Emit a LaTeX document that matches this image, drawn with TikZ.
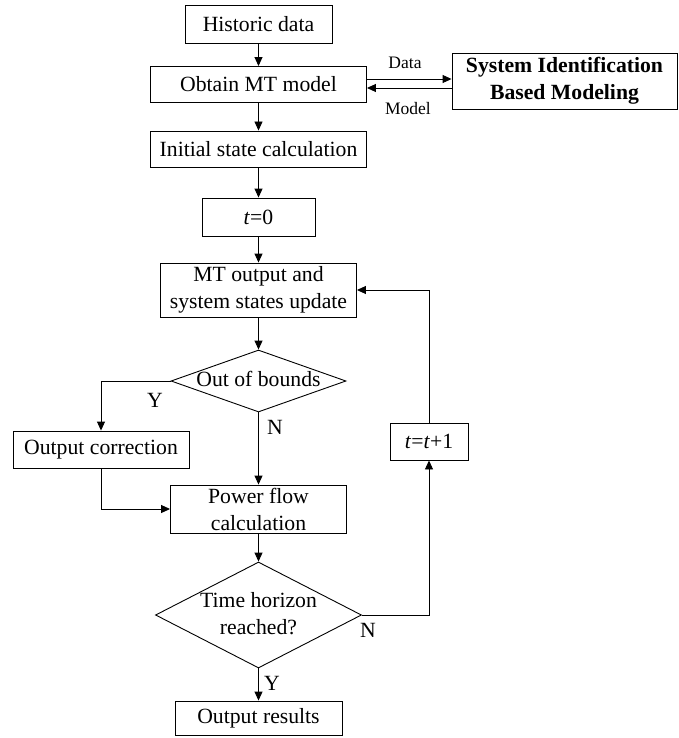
\documentclass[tikz,border=0pt]{standalone}
\usepackage{fontspec}
\setmainfont{Liberation Serif}
\usetikzlibrary{arrows.meta,shapes.geometric}
\begin{document}
\begin{tikzpicture}[x=1pt,y=-1pt,
  box/.style={draw,line width=0.9pt,inner sep=0pt,align=center,font=\fontsize{21.7}{27}\selectfont},
  dia/.style={draw,diamond,line width=0.9pt,inner sep=0pt},
  txt/.style={inner sep=0pt,align=center,font=\fontsize{21.7}{27}\selectfont},
  lbl/.style={inner sep=0pt,font=\fontsize{17.5}{20}\selectfont},
  arr/.style={line width=0.9pt,-{Triangle[length=9pt,width=8pt]}},
  ln/.style={line width=0.9pt}]
\useasboundingbox (0,0) rectangle (678,738);

\node[box,minimum width=147pt,minimum height=38pt] (hist) at (258.5,24) {Historic data};
\node[box,minimum width=216pt,minimum height=36pt] (obtain) at (258.5,84.5) {Obtain MT model};
\node[box,minimum width=225pt,minimum height=56pt,font=\fontsize{21.7}{27}\selectfont\bfseries] (sysid) at (564.5,81) {System Identification\\Based Modeling};
\node[box,minimum width=216pt,minimum height=36pt] (init) at (258.5,149) {Initial state calculation};
\node[box,minimum width=113pt,minimum height=38pt] (tzero) at (258.5,217) {\textit{t}=0};
\node[box,minimum width=196pt,minimum height=54pt] (mtout) at (258.5,290) {MT output and\\system states update};
\node[dia,minimum width=175pt,minimum height=62pt] (oob) at (258.5,381) {};
\node[txt] (oobt) at (258.5,379) {Out of bounds};
\node[box,minimum width=176pt,minimum height=37pt] (corr) at (101,449.5) {Output correction};
\node[box,minimum width=176pt,minimum height=48pt] (power) at (258.5,509) {Power flow\\calculation};
\node[dia,minimum width=206pt,minimum height=106pt] (hor) at (258.5,615) {};
\node[txt] (hort) at (258.5,614) {Time horizon\\reached?};
\node[box,minimum width=78pt,minimum height=37pt] (tinc) at (429,441.5) {\textit{t}=\textit{t}+1};
\node[box,minimum width=167pt,minimum height=34pt] (res) at (258.5,718) {Output results};

\node[lbl] (ldata) at (405,63) {Data};
\node[lbl] (lmodel) at (408,109) {Model};
\node[txt] (ly1) at (155,400) {Y};
\node[txt] (ln1) at (275,427) {N};
\node[txt] (ln2) at (368,630) {N};
\node[txt] (ly2) at (272,683) {Y};

\draw[arr] (hist) -- (obtain);
\draw[arr] (obtain) -- (init);
\draw[arr] (init) -- (tzero);
\draw[arr] (tzero) -- (mtout);
\draw[arr] (mtout) -- (oob.north);
\draw[arr] (oob.west) -| (corr.north);
\draw[arr] (oob.south) -- (power.north);
\draw[arr] (corr.south) |- (power.west);
\draw[arr] (power) -- (hor.north);
\draw[arr] (hor.south) -- (res.north);
\draw[arr] (hor.east) -| (tinc.south);
\draw[arr] (tinc.north) |- (mtout.east);
\draw[arr] ([yshift=5.5pt]obtain.east) coordinate (d1) -- (d1 -| sysid.west);
\draw[arr] ([yshift=-7pt]sysid.west) coordinate (m1) -- (m1 -| obtain.east);
\end{tikzpicture}
\end{document}
